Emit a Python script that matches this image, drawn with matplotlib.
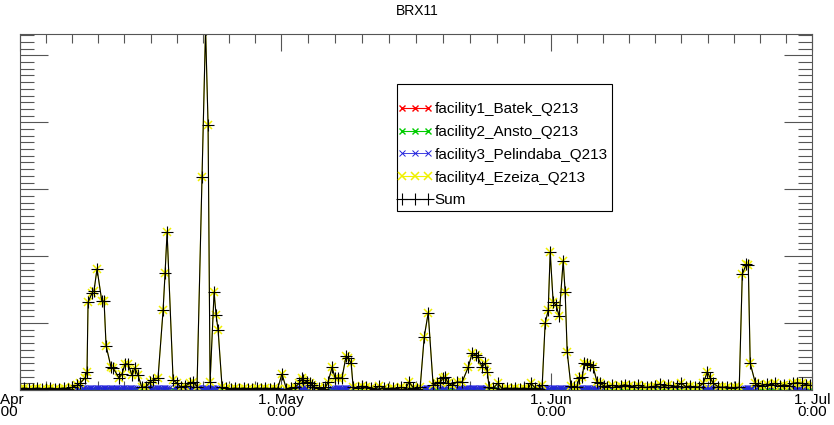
import datetime as dt
import numpy as np
import matplotlib
matplotlib.use("Agg")
import matplotlib.pyplot as plt
import matplotlib.dates as mdates
from matplotlib.ticker import FixedLocator, FuncFormatter, MultipleLocator
from matplotlib.patches import Rectangle

plt.rcParams['font.family'] = ['Liberation Sans', 'DejaVu Sans']

# --- data: days after 1 Apr 2013 ---
sum_days = [
    0.0, 0.5, 1.0, 1.5, 2.0, 2.5, 3.0, 3.5, 4.0, 4.5, 5.0, 5.5, 6.0,
    6.55, 6.9, 7.47, 7.7, 7.82, 8.28, 8.5, 8.85, 9.4, 9.66, 9.89, 10.46, 10.69,
    11.38, 11.72, 12.07, 12.41, 12.87, 13.2, 13.56, 14.0,
    14.5, 14.94, 15.29, 15.86, 16.44, 16.67, 16.9, 17.59, 18.05, 18.5, 18.97,
    19.54, 19.89, 20.34, 20.92, 21.32, 21.61, 21.84, 22.3, 22.53, 22.76, 23.22,
    23.7, 24.2, 24.7, 25.2, 25.7, 26.2, 26.7, 27.2, 27.7, 28.2, 28.7, 29.2, 29.6,
    30.1, 30.6, 31.1, 31.6, 32.07, 32.4, 32.55, 33.0, 33.3, 33.56, 33.8, 34.3,
    34.8, 35.1, 35.4, 35.86, 36.2, 36.55, 37.0, 37.47, 37.7, 38.05, 38.28, 38.8,
    39.3, 39.8, 40.3, 40.8, 41.3, 41.8, 42.3, 42.8, 43.3, 43.8, 44.3, 44.7, 45.2,
    45.6, 45.98, 46.44, 46.9, 47.47, 47.93, 48.3, 48.62, 48.85, 49.2, 49.66, 50.2,
    50.8, 51.5, 51.95, 52.4, 52.6, 53.1, 53.4, 53.7, 53.9, 54.4, 54.9, 55.4, 55.9,
    56.4, 56.9, 57.4, 57.9, 58.4, 58.7, 59.2, 59.6,
    60.0, 60.34, 60.69, 60.92, 61.26, 61.6, 61.95, 62.41, 62.64, 62.87, 63.3,
    63.7, 64.0, 64.25, 64.6, 64.83, 65.17, 65.5, 65.86, 66.3, 66.67, 67.1, 67.5,
    68.0, 68.5, 69.0, 69.5, 70.0, 70.5, 71.0, 71.5, 72.0, 72.5, 73.0, 73.5, 74.0,
    74.5, 75.0, 75.5, 76.0, 76.5, 77.0, 77.5, 78.0, 78.5, 78.97, 79.3, 79.66,
    80.2, 80.7, 81.2, 81.7, 82.2, 82.64, 82.99, 83.45, 83.68, 83.9, 84.5, 84.8,
    85.3, 85.8, 86.3, 86.8, 87.3, 87.8, 88.3, 88.8, 89.3, 89.8, 90.3, 90.8,
]
sum_vals = [
    .02, .03, .02, .02, .03, .02, .02, .03, .02, .02, .03, .02, .04,
    .07, .10, .18, .27, 1.31, 1.45, 1.48, 1.81, 1.33, 1.33, .66, .34, .33,
    .18, .24, .39, .39, .22, .33, .22, .04,
    .05, .12, .15, .18, 1.19, 1.75, 2.36, .15, .10, .04, .06,
    .10, .12, .05, 3.19, 5.40, 3.96, .12, 1.46, 1.12, .90, .04,
    .03, .02, .03, .02, .03, .02, .02, .03, .02, .03, .02, .03, .02,
    .24, .02, .03, .04, .10, .18, .15, .12, .10, .07, .04, .03,
    .02, .04, .12, .34, .18, .18, .18, .51, .48, .40, .04, .03,
    .06, .04, .03, .02, .06, .03, .02, .03, .02, .04, .02, .12, .03,
    .02, .04, .79, 1.15, .07, .10, .12, .18, .19, .10, .07, .12,
    .12, .34, .55, .52, .49, .34, .40, .27, .04, .03, .10, .02, .03,
    .02, .03, .02, .03, .02, .10, .03, .02,
    .07, 1.00, 1.19, 2.06, 1.31, 1.27, 1.10, 1.93, 1.46, .57, .06,
    .04, .05, .18, .19, .40, .39, .37, .34, .12, .10, .06, .05,
    .07, .05, .06, .08, .06, .05, .07, .05, .04, .05, .06, .09, .05,
    .07, .05, .06, .10, .05, .06, .04, .05, .10, .27, .18, .10,
    .05, .04, .05, .03, .04, .04, 1.73, 1.88, 1.87, .40, .10, .07,
    .06, .09, .07, .10, .06, .08, .06, .10, .11, .10, .08, .07,
]
# facility3 (Pelindaba) periods with small non-zero values: (start day, end day)
f3_periods = [(6.0, 13.6), (14.7, 17.2), (17.8, 23.0), (31.8, 33.9), (35.9, 38.3),
              (46.2, 47.5), (48.3, 49.0), (50.0, 53.8), (59.8, 63.2), (64.1, 66.9),
              (78.4, 80.1), (83.1, 84.7), (88.5, 90.5)]
f3_level = 0.03

labels = ['facility1_Batek_Q213', 'facility2_Ansto_Q213',
          'facility3_Pelindaba_Q213', 'facility4_Ezeiza_Q213', 'Sum']
colors = ['red', '#00cc00', '#2222dd', '#f0f000', 'black']

start = dt.datetime(2013, 4, 1)
to_date = lambda d: [start + dt.timedelta(days=x) for x in d]

t_sum = to_date(sum_days)
f3_days = np.concatenate([np.arange(a, b, 0.2) for a, b in f3_periods])
t_f3 = to_date(f3_days)
zeros = np.zeros(len(sum_days))

fig = plt.figure(figsize=(8.34, 4.25), dpi=100)
ax = fig.add_axes([20/834, 35/425, 792/834, 356/425])

ax.plot(t_sum, zeros, color=colors[0], marker='x', ms=5, lw=0.8)
ax.plot(t_sum, zeros, color=colors[1], marker='x', ms=5, lw=0.8)
ax.plot(t_f3, np.full(len(f3_days), f3_level), color=colors[2], marker='x',
        ms=4, mew=0.7, lw=0.6)
ax.plot(t_sum, sum_vals, color=colors[3], marker='x', ms=6, mew=1.1, lw=0.8)
ax.plot(t_sum, sum_vals, color=colors[4], marker='+', ms=8, mew=0.8, lw=0.8)

ax.set_xlim(start, dt.datetime(2013, 7, 1))
ax.set_ylim(0, 5.32)

months = [dt.datetime(2013, m, 1) for m in (4, 5, 6, 7)]
mnum = mdates.date2num(months)
minor = []
for a, b in zip(mnum[:-1], mnum[1:]):
    minor += list(np.linspace(a, b, 11)[1:-1])


def xlab(x, p):
    if abs(x - mnum[0]) < 1e-6:
        return ''
    return mdates.num2date(x).strftime('1. %b\n0:00')


ax.xaxis.set_major_locator(FixedLocator(mnum))
ax.xaxis.set_minor_locator(FixedLocator(minor))
ax.xaxis.set_major_formatter(FuncFormatter(xlab))
ax.yaxis.set_major_locator(MultipleLocator(1))
ax.yaxis.set_minor_locator(MultipleLocator(0.1))
ax.yaxis.set_major_formatter(FuncFormatter(lambda y, p: ''))

ax.tick_params(axis='x', which='both', direction='in', top=True, bottom=True,
               colors='#555555', labelcolor='black', labelsize=11, pad=2)
ax.tick_params(axis='x', which='major', length=12, width=0.8)
ax.tick_params(axis='x', which='minor', length=6.5, width=0.8)
ax.tick_params(axis='y', which='both', direction='in', left=True, right=True,
               colors='#555555', width=0.8)
ax.tick_params(axis='y', which='major', length=20)
ax.tick_params(axis='y', which='minor', length=10)
for lab in ax.get_xticklabels():
    lab.set_linespacing(0.85)
for s in ax.spines.values():
    s.set_color('#555555')
    s.set_linewidth(0.8)

# first date label sits partly outside the figure, as in the original
ax.annotate(mdates.num2date(mnum[0]).strftime('1. %b\n0:00'), xy=(mnum[0], 0),
            xycoords=('data', 'axes fraction'), xytext=(-12, -2),
            textcoords='offset points', ha='center', va='top', fontsize=11,
            linespacing=0.85, annotation_clip=False)

fig.text(0.5, 1 - 11/425, 'BRX11', ha='center', va='center', fontsize=10)

leg = ax.legend(labels, loc='upper left', bbox_to_anchor=((397-20)/792, (390-102)/356),
                frameon=False, fontsize=11, numpoints=3, handlelength=2.3,
                handletextpad=0.15, labelspacing=0.58, borderpad=0, borderaxespad=0)
ax.add_patch(Rectangle(((397-20)/792, (390-211)/356), (612-397)/792, (211-84)/356,
                       transform=ax.transAxes, fill=True, facecolor='white',
                       edgecolor='black', lw=0.8, zorder=4))
leg.set_zorder(5)

fig.savefig('out.png', dpi=100)
